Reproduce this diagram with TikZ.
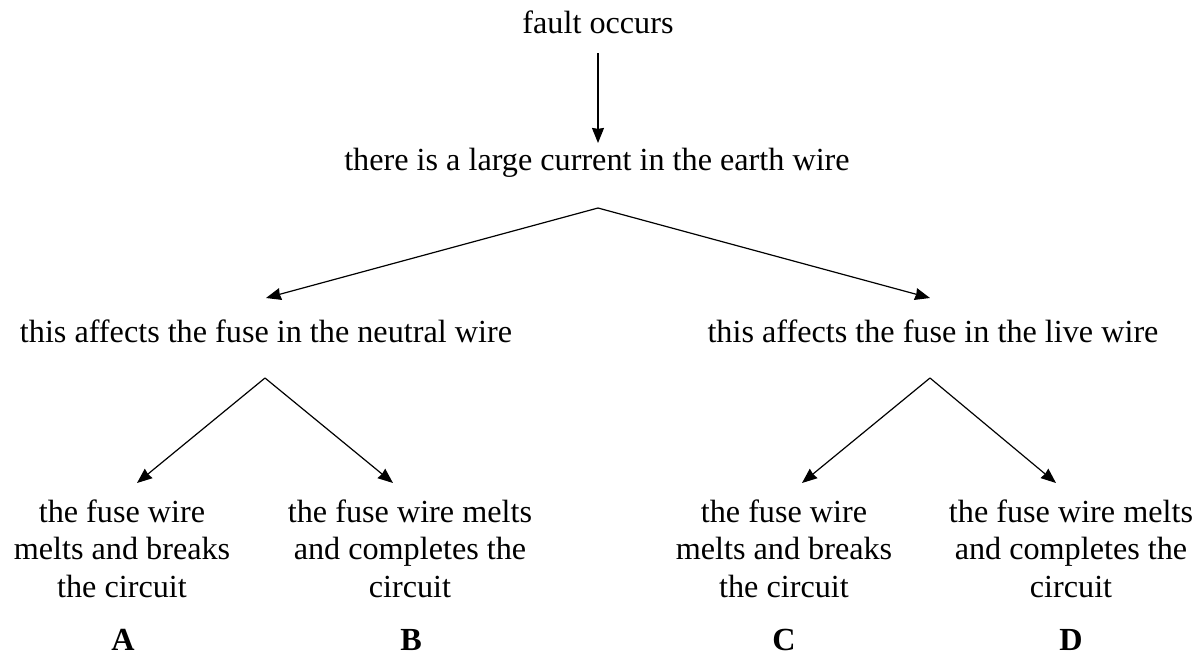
\documentclass[tikz,border=0pt]{standalone}
\usepackage{fontspec}
\setmainfont{Liberation Serif}
\usetikzlibrary{arrows.meta}
\newcommand{\mlines}[1]{\begin{tabular}[t]{@{}c@{}}#1\end{tabular}}
\tikzset{
  txt/.style={inner sep=0pt, anchor=base, font=\fontsize{16.1}{18.75}\selectfont},
  lbl/.style={inner sep=0pt, anchor=base, font=\fontsize{16.1}{18.75}\selectfont\bfseries},
  conn/.style={line width=0.6pt, -{Stealth[length=7.5pt,width=6pt,inset=0.4pt]}},
}
\begin{document}
\begin{tikzpicture}[x=0.5pt,y=-0.5pt]
\useasboundingbox (0,0) rectangle (1200,659);
\node[txt] (fault) at (598,33) {fault occurs};
\node[txt] (earth) at (597,170) {there is a large current in the earth wire};
\node[txt] (neutral) at (266,342) {this affects the fuse in the neutral wire};
\node[txt] (live) at (933,342) {this affects the fuse in the live wire};
\node[txt] (a) at (122,522) {\mlines{the fuse wire\\melts and breaks\\the circuit}};
\node[txt] (b) at (410,522) {\mlines{the fuse wire melts\\and completes the\\circuit}};
\node[txt] (c) at (784,522) {\mlines{the fuse wire\\melts and breaks\\the circuit}};
\node[txt] (d) at (1071,522) {\mlines{the fuse wire melts\\and completes the\\circuit}};
\node[lbl] (la) at (123,650) {A};
\node[lbl] (lb) at (411,650) {B};
\node[lbl] (lc) at (784,650) {C};
\node[lbl] (ld) at (1071,650) {D};
\coordinate (f0) at (598,53);
\coordinate (f1) at (598,143);
\coordinate (e0) at (598,208);
\coordinate (e1) at (266,298);
\coordinate (e2) at (930,298);
\coordinate (n0) at (265,378);
\coordinate (n1) at (137,483);
\coordinate (n2) at (393,483);
\coordinate (l0) at (930,378);
\coordinate (l1) at (802,483);
\coordinate (l2) at (1056,483);
\draw[conn] (f0) -- (f1);
\draw[conn] (e0) -- (e1);
\draw[conn] (e0) -- (e2);
\draw[conn] (n0) -- (n1);
\draw[conn] (n0) -- (n2);
\draw[conn] (l0) -- (l1);
\draw[conn] (l0) -- (l2);
\end{tikzpicture}
\end{document}
